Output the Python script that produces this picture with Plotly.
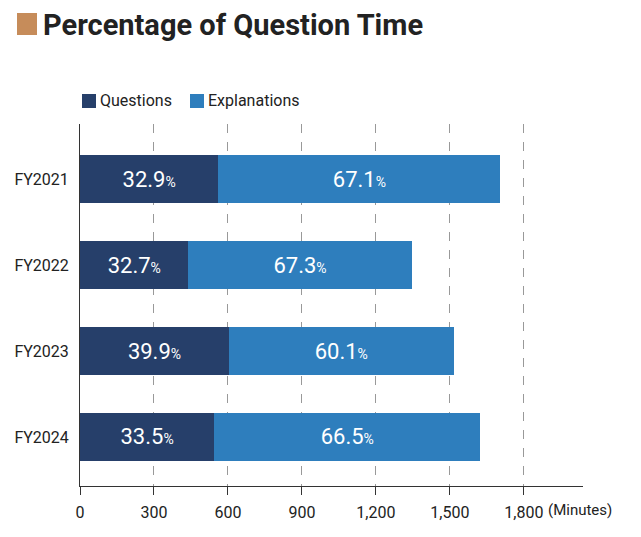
import plotly.graph_objects as go

years = ["FY2021", "FY2022", "FY2023", "FY2024"]
series_names = ["Questions", "Explanations"]
questions_min = [561, 440, 604, 544]
explanations_min = [1144, 905, 911, 1080]
questions_pct = ["32.9", "32.7", "39.9", "33.5"]
explanations_pct = ["67.1", "67.3", "60.1", "66.5"]
tick_vals = [0, 300, 600, 900, 1200, 1500, 1800]
tick_text = ["0", "300", "600", "900", "1,200", "1,500", "1,800"]

colors = ["#263F6A", "#2E7EBD"]
font = "Roboto"

# plot area in window pixels (page body adds an 8px offset)
PL, PT, PW, PH = 80, 124, 503, 362


def px(x):
    return (x - PL) / PW


def py(y):
    return 1 + (PT - y) / PH


def label(p):
    return p + "<span style='font-size:14px'>%</span>"


fig = go.Figure()
for name, vals, pcts, col in zip(series_names, [questions_min, explanations_min],
                                 [questions_pct, explanations_pct], colors):
    fig.add_trace(go.Bar(
        y=years, x=vals, name=name, orientation="h",
        marker=dict(color=col, line=dict(width=0)),
        text=[label(p) for p in pcts], textposition="inside",
        insidetextanchor="middle", textangle=0,
        textfont=dict(color="white", size=22, family=font),
        width=0.55, showlegend=False,
    ))

fig.update_layout(
    barmode="stack",
    width=625, height=521,
    margin=dict(l=PL - 8, r=625 - (PL - 8) - PW, t=PT - 8, b=521 - (PT - 8) - PH),
    paper_bgcolor="white", plot_bgcolor="white",
    font=dict(family=font, color="#222"),
)
fig.update_xaxes(
    range=[0, 2040], tickvals=tick_vals, ticktext=tick_text, automargin=False,
    showgrid=True, gridcolor="#999", griddash="dash", gridwidth=1,
    showline=True, linecolor="#333", linewidth=1,
    ticks="outside", ticklen=8, tickcolor="#333", ticklabelstandoff=4,
    tickfont=dict(size=16, color="#222"), zeroline=False,
)
fig.update_yaxes(
    autorange=False, range=[3.57, -0.64], automargin=False,
    showline=True, linecolor="#333", linewidth=1,
    showgrid=False, ticks="", ticklabelstandoff=7,
    tickfont=dict(size=16, color="#222"),
)

# title with colored square
fig.add_shape(type="rect", xref="paper", yref="paper",
              x0=px(17), x1=px(37), y0=py(35), y1=py(13),
              fillcolor="#C68C5A", line=dict(width=0))
fig.add_annotation(text="<b>Percentage of Question Time</b>", xref="paper", yref="paper",
                   x=px(41), y=py(25), xanchor="left", yanchor="middle",
                   showarrow=False, font=dict(size=29, color="#222", family=font))

# legend
lx = [82, 190]
for i, (name, col) in enumerate(zip(series_names, colors)):
    fig.add_shape(type="rect", xref="paper", yref="paper",
                  x0=px(lx[i]), x1=px(lx[i] + 14), y0=py(108), y1=py(94),
                  fillcolor=col, line=dict(width=0))
    fig.add_annotation(text=name, xref="paper", yref="paper",
                       x=px(lx[i] + 16), y=py(101),
                       xanchor="left", yanchor="middle", showarrow=False,
                       font=dict(size=16, color="#222", family=font))

fig.add_annotation(text="(Minutes)", x=1800, xref="x", yref="paper", y=0,
                   xanchor="left", yanchor="middle", xshift=22, yshift=-24,
                   showarrow=False, font=dict(size=15, color="#222", family=font))

fig.write_html("out.html")
